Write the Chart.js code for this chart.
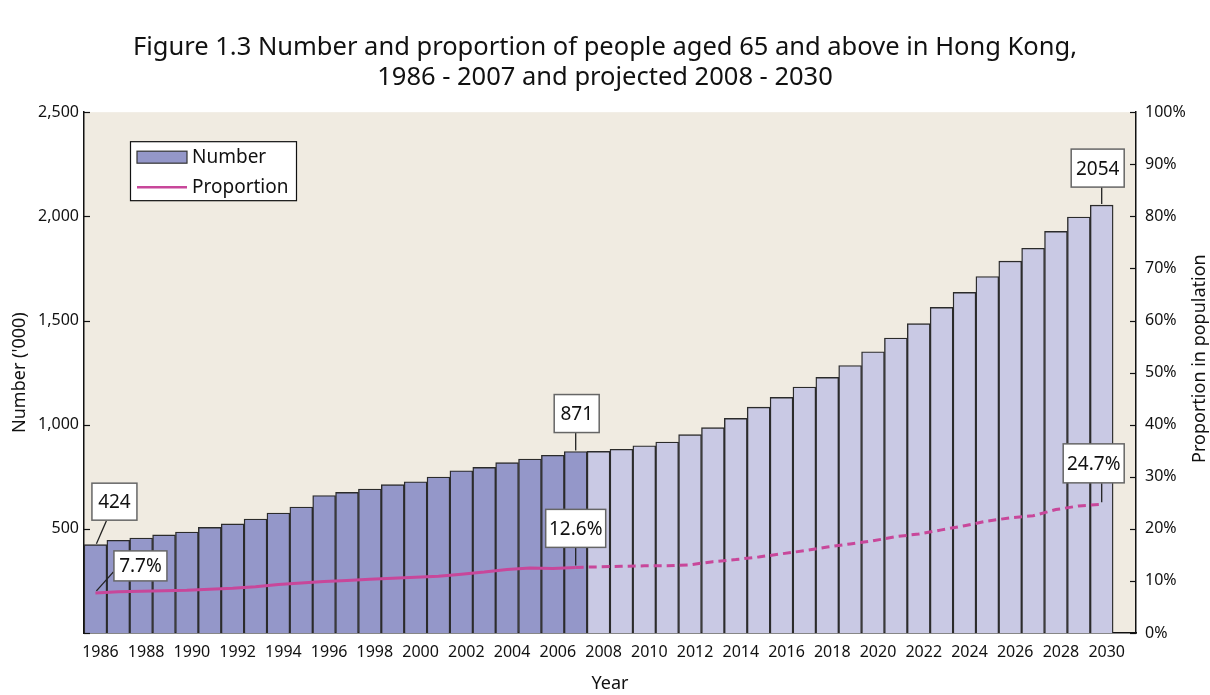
<!DOCTYPE html>
<html>
<head>
<meta charset="utf-8">
<script src="https://cdn.jsdelivr.net/npm/chart.js@4.4.0/dist/chart.umd.min.js"></script>
<style>
  html, body { margin: 0; background: #fff; }
  #wrap { width: 1210px; height: 695px; }
</style>
</head>
<body>
<div id="wrap"><canvas id="myChart"></canvas></div>
<script>
// data
var years = [1986, 1987, 1988, 1989, 1990, 1991, 1992, 1993, 1994, 1995,
             1996, 1997, 1998, 1999, 2000, 2001, 2002, 2003, 2004, 2005,
             2006, 2007, 2008, 2009, 2010, 2011, 2012, 2013, 2014, 2015,
             2016, 2017, 2018, 2019, 2020, 2021, 2022, 2023, 2024, 2025,
             2026, 2027, 2028, 2029, 2030];
var numbers = [424, 445, 456, 471, 485, 507, 524, 547, 576, 605,
               660, 675, 691, 712, 726, 749, 779, 795, 818, 835,
               853, 871, 872, 882, 899, 917, 952, 986, 1030, 1084,
               1131, 1181, 1227, 1284, 1350, 1416, 1485, 1563, 1635, 1711,
               1785, 1847, 1928, 1997, 2054];
var proportion = [7.7, 7.9, 8.0, 8.1, 8.2, 8.4, 8.6, 8.9, 9.3, 9.6,
                  9.9, 10.1, 10.3, 10.5, 10.7, 10.9, 11.3, 11.7, 12.2, 12.5,
                  12.4, 12.6, 12.7, 12.8, 12.9, 12.9, 13.1, 13.7, 14.1, 14.6,
                  15.2, 15.8, 16.5, 17.1, 17.7, 18.5, 19.0, 19.8, 20.6, 21.5,
                  22.1, 22.5, 23.7, 24.4, 24.7];
var lastActual = 2007;
var numberTicks = [0, 500, 1000, 1500, 2000, 2500];
var yearTicks = years.filter(y => y % 2 === 0);

var FONT = "'Noto Sans', sans-serif";
var barActual = "#9497c9";
var barProjected = "#c9c9e4";
var lineColor = "#c8479a";

var ctx = document.querySelector("#myChart").getContext("2d");

// plot background
var bgPlugin = {
    id: "bg",
    beforeDraw(chart) {
        let a = chart.chartArea, c = chart.ctx;
        c.save();
        c.fillStyle = "#f0ebe1";
        c.fillRect(a.left, a.top, a.right - a.left, a.bottom - a.top);
        c.restore();
    }
};

// short ticks pointing into the plot, and the right axis title (reads upwards)
var innerTicks = {
    id: "innerTicks",
    afterDraw(chart) {
        let c = chart.ctx, a = chart.chartArea;
        let y = chart.scales.y, y1 = chart.scales.y1;
        c.save();
        c.strokeStyle = "#111";
        c.lineWidth = 1.2;
        y.ticks.forEach(t => {
            let py = Math.round(y.getPixelForValue(t.value)) + 0.5;
            c.beginPath(); c.moveTo(a.left, py); c.lineTo(a.left + 6, py); c.stroke();
        });
        y1.ticks.forEach(t => {
            let py = Math.round(y1.getPixelForValue(t.value)) + 0.5;
            c.beginPath(); c.moveTo(a.right - 6, py); c.lineTo(a.right, py); c.stroke();
        });
        c.translate(y1.right - 10, (a.top + a.bottom) / 2 - 14);
        c.rotate(-Math.PI / 2);
        c.fillStyle = "#111";
        c.font = "18px " + FONT;
        c.textAlign = "center";
        c.textBaseline = "middle";
        c.fillText("Proportion in population", 0, 0);
        c.restore();
    }
};

// value callouts: box offset from the mark + leader line
var callouts = [
    { ds: 1, i: 0,  text: "424",   dx: 19,  dy: -43, w: 45, h: 37, lx: 11, ly: -24 },
    { ds: 0, i: 0,  text: "7.7%",  dx: 45,  dy: -27, w: 53, h: 30, lx: 18, ly: -21 },
    { ds: 1, i: 21, text: "871",   dx: 1,   dy: -38, w: 45, h: 38, lx: 0,  ly: -19 },
    { ds: 0, i: 21, text: "12.6%", dx: 0,   dy: -39, w: 60, h: 38, lx: 0,  ly: -20 },
    { ds: 1, i: 44, text: "2054",  dx: -4,  dy: -37, w: 53, h: 38, lx: 0,  ly: -18 },
    { ds: 0, i: 44, text: "24.7%", dx: -8,  dy: -41, w: 61, h: 39, lx: 0,  ly: -21 }
];
var calloutPlugin = {
    id: "callouts",
    afterDatasetsDraw(chart) {
        let c = chart.ctx;
        c.save();
        callouts.forEach(o => {
            let el = chart.getDatasetMeta(o.ds).data[o.i];
            let px = el.x, py = el.y;
            c.strokeStyle = "#222";
            c.lineWidth = 1.3;
            c.beginPath();
            c.moveTo(px + o.lx, py + o.ly);
            c.lineTo(px + (o.lx ? 1 : 0), py - (o.ds === 0 ? 2 : 1));
            c.stroke();
            let bx = px + o.dx - o.w / 2, by = py + o.dy - o.h / 2;
            c.fillStyle = "#fff";
            c.fillRect(bx, by, o.w, o.h);
            c.strokeStyle = "#666";
            c.lineWidth = 1.5;
            c.strokeRect(bx, by, o.w, o.h);
            c.fillStyle = "#111";
            c.font = "19px " + FONT;
            c.textAlign = "center";
            c.textBaseline = "middle";
            c.fillText(o.text, px + o.dx, py + o.dy + 1);
        });
        c.restore();
    }
};

// legend drawn inside the plot
var legendPlugin = {
    id: "inLegend",
    afterDraw(chart) {
        let c = chart.ctx, a = chart.chartArea;
        let x = a.left + 46, y = a.top + 29;
        c.save();
        c.fillStyle = "#fff";
        c.fillRect(x, y, 166, 59);
        c.strokeStyle = "#111";
        c.lineWidth = 1.2;
        c.strokeRect(x + 0.5, y + 0.5, 166, 59);
        c.fillStyle = barActual;
        c.fillRect(x + 7, y + 10, 50, 12);
        c.strokeStyle = "#333";
        c.strokeRect(x + 7, y + 10, 50, 12);
        c.strokeStyle = lineColor;
        c.lineWidth = 2.5;
        c.beginPath(); c.moveTo(x + 7, y + 46); c.lineTo(x + 57, y + 46); c.stroke();
        c.fillStyle = "#111";
        c.font = "19px " + FONT;
        c.textBaseline = "middle";
        c.fillText("Number", x + 62, y + 16);
        c.fillText("Proportion", x + 62, y + 46);
        c.restore();
    }
};

var myChart = new Chart(ctx, {
    type: "bar",
    data: {
        datasets: [{
            type: "line",
            label: "Proportion",
            yAxisID: "y1",
            data: years.map((yr, i) => ({ x: yr, y: proportion[i] })),
            borderColor: lineColor,
            borderWidth: 3,
            pointRadius: 0,
            tension: 0,
            order: 0,
            segment: {
                borderDash: c => c.p0.parsed.x >= lastActual ? [8, 5] : undefined
            }
        }, {
            label: "Number",
            yAxisID: "y",
            data: years.map((yr, i) => ({ x: yr, y: numbers[i] })),
            backgroundColor: years.map(yr => yr <= lastActual ? barActual : barProjected),
            borderColor: "#2b2b2b",
            borderWidth: 1.4,
            barPercentage: 1,
            categoryPercentage: 1,
            order: 1
        }]
    },
    options: {
        responsive: true,
        maintainAspectRatio: false,
        animation: false,
        layout: { padding: 0 },
        plugins: {
            legend: { display: false },
            tooltip: { enabled: false },
            title: {
                display: true,
                text: ["Figure 1.3 Number and proportion of people aged 65 and above in Hong Kong,",
                       "1986 - 2007 and projected 2008 - 2030"],
                color: "#111",
                font: { family: FONT, size: 25.5, weight: "normal", lineHeight: 1.18 },
                padding: { top: 33, bottom: 19 }
            }
        },
        scales: {
            x: {
                type: "linear",
                offset: false,
                min: 1985.5,
                max: 2031.5,
                afterBuildTicks: s => { s.ticks = yearTicks.map(v => ({ value: v })); },
                afterFit: s => { s.height = 62; },
                grid: { display: false, drawTicks: false },
                border: { color: "#111", width: 1.5 },
                ticks: {
                    color: "#111",
                    padding: 10,
                    labelOffset: 5,
                    maxRotation: 0,
                    autoSkip: false,
                    font: { family: FONT, size: 16 },
                    callback: v => String(v)
                },
                title: {
                    display: true, text: "Year", color: "#111",
                    font: { family: FONT, size: 18 }, padding: 0
                }
            },
            y: {
                position: "left",
                min: 0,
                max: 2500,
                afterBuildTicks: s => { s.ticks = numberTicks.map(v => ({ value: v })); },
                afterFit: s => { s.width = 84; },
                grid: { display: false, drawTicks: false },
                border: { color: "#111", width: 1.5 },
                ticks: {
                    color: "#111",
                    padding: 5,
                    font: { family: FONT, size: 16 },
                    callback: v => v === 0 ? "" : v.toLocaleString("en-US")
                },
                title: {
                    display: true, text: "Number ('000)", color: "#111",
                    font: { family: FONT, size: 18 }, padding: { top: 9 }
                }
            },
            y1: {
                position: "right",
                min: 0,
                max: 100,
                afterFit: s => { s.width = 74; },
                grid: { display: false, drawTicks: false },
                border: { color: "#111", width: 1.5 },
                ticks: {
                    stepSize: 10,
                    color: "#111",
                    padding: 9,
                    font: { family: FONT, size: 16 },
                    callback: v => v + "%"
                }
            }
        }
    },
    plugins: [bgPlugin, innerTicks, calloutPlugin, legendPlugin]
});
</script>
</body>
</html>
